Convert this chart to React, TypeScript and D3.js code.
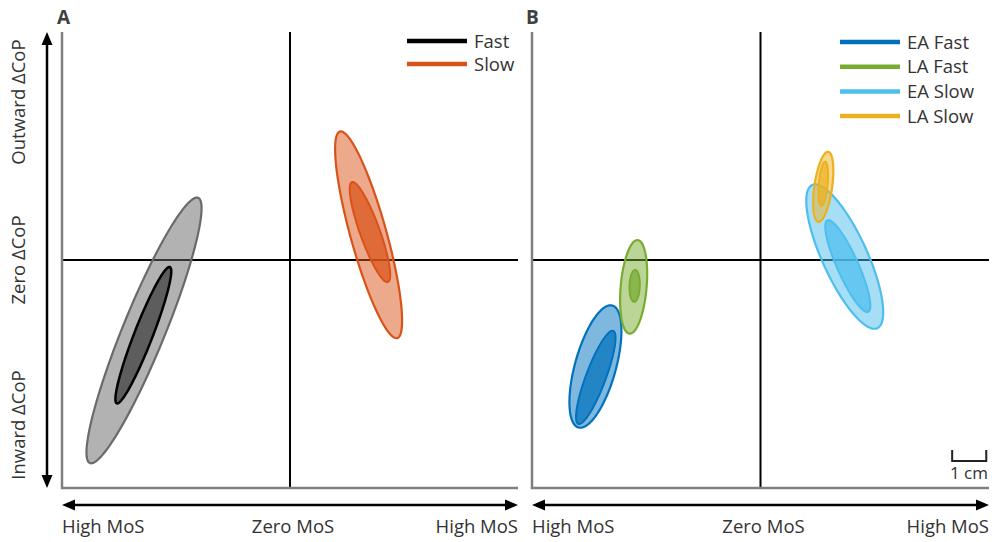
import React from "react";
import * as d3 from "d3";

// ---- data (cm) ----
const legendA = ["Fast", "Slow"];
const legendB = ["EA Fast", "LA Fast", "EA Slow", "LA Slow"];
const xTickLabels = ["High MoS", "Zero MoS", "High MoS"];
const yTickLabels = ["Outward ΔCoP", "Zero ΔCoP", "Inward ΔCoP"];

// ellipse: [cx, cy, semiMajor, semiMinor, angleDeg]
const ellipsesA = [
  { series: "Fast", level: "outer", p: [-4.29, -2.07, 4.21, 0.62, 67.8] },
  { series: "Fast", level: "inner", p: [-4.31, -2.21, 2.15, 0.27, 68.7] },
  { series: "Slow", level: "outer", p: [2.31, 0.74, 3.15, 0.53, 105.5] },
  { series: "Slow", level: "inner", p: [2.35, 0.82, 1.56, 0.29, 109.8] },
];
const ellipsesB = [
  { series: "EA Fast", level: "outer", p: [-4.84, -3.13, 1.86, 0.6, 74.5] },
  { series: "EA Fast", level: "inner", p: [-4.83, -3.45, 1.46, 0.29, 69.5] },
  { series: "LA Fast", level: "outer", p: [-3.72, -0.79, 1.38, 0.38, 85] },
  { series: "LA Fast", level: "inner", p: [-3.69, -0.76, 0.47, 0.15, 88] },
  { series: "EA Slow", level: "outer", p: [2.47, 0.1, 2.31, 0.66, 114.4] },
  { series: "EA Slow", level: "inner", p: [2.56, -0.18, 1.47, 0.31, 114] },
  { series: "LA Slow", level: "outer", p: [1.84, 2.15, 1.04, 0.26, 81.9] },
  { series: "LA Slow", level: "inner", p: [1.84, 2.24, 0.65, 0.13, 85] },
];
const domain = [-6.7, 6.7];
const scaleBarStart = 5.62;
const scaleBarLength = 1;
const scaleBarLabel = "1 cm";

// ---- styles ----
const colors: Record<string, string> = {
  Fast: "#000000",
  Slow: "#D95319",
  "EA Fast": "#0072BD",
  "LA Fast": "#77AC30",
  "EA Slow": "#4DBEEE",
  "LA Slow": "#EDB120",
};
const FONT = "'Open Sans', 'Noto Sans', sans-serif";
const TXT = "#333333";

function ellipsePath(p: number[], x: d3.ScaleLinear<number, number>, y: d3.ScaleLinear<number, number>) {
  const [cx, cy, a, b, deg] = p;
  const th = (deg * Math.PI) / 180;
  const pts: [number, number][] = d3.range(0, 120).map((i) => {
    const t = (i / 120) * 2 * Math.PI;
    const dx = a * Math.cos(th) * Math.cos(t) - b * Math.sin(th) * Math.sin(t);
    const dy = a * Math.sin(th) * Math.cos(t) + b * Math.cos(th) * Math.sin(t);
    return [x(cx + dx), y(cy + dy)];
  });
  return d3.line().curve(d3.curveLinearClosed)(pts) || "";
}

function ellStyle(series: string, level: string) {
  const c = colors[series];
  if (series === "Fast") {
    return level === "outer"
      ? { fill: "#666666", fillOpacity: 0.5, stroke: "#6a6a6a", strokeWidth: 2.2 }
      : { fill: "#000000", fillOpacity: 0.48, stroke: "#000000", strokeWidth: 2.5 };
  }
  return level === "outer"
    ? { fill: c, fillOpacity: 0.5, stroke: c, strokeWidth: 2.2 }
    : { fill: c, fillOpacity: 0.72, stroke: c, strokeWidth: 2 };
}

function HArrow({ x0, x1, y }: { x0: number; x1: number; y: number }) {
  const L = 13, W = 5.5;
  return (
    <g>
      <line x1={x0 + 4} x2={x1 - 4} y1={y} y2={y} stroke="#000" strokeWidth={2.5} />
      <path d={`M${x0},${y} L${x0 + L},${y - W} L${x0 + L},${y + W} Z`} fill="#000" />
      <path d={`M${x1},${y} L${x1 - L},${y - W} L${x1 - L},${y + W} Z`} fill="#000" />
    </g>
  );
}

function VArrow({ y0, y1, x }: { y0: number; y1: number; x: number }) {
  const L = 13, W = 5.5;
  return (
    <g>
      <line y1={y0 + 4} y2={y1 - 4} x1={x} x2={x} stroke="#000" strokeWidth={2.5} />
      <path d={`M${x},${y0} L${x - W},${y0 + L} L${x + W},${y0 + L} Z`} fill="#000" />
      <path d={`M${x},${y1} L${x - W},${y1 - L} L${x + W},${y1 - L} Z`} fill="#000" />
    </g>
  );
}

function Panel({
  x, y, ellipses, legend, legendX, legendY, legendStep, letter, letterX,
}: {
  x: d3.ScaleLinear<number, number>; y: d3.ScaleLinear<number, number>;
  ellipses: { series: string; level: string; p: number[] }[];
  legend: string[]; legendX: number; legendY: number; legendStep: number; letter: string; letterX: number;
}) {
  const [xl, xr] = x.range();
  const [yb, yt] = y.range();
  return (
    <g>
      <text x={letterX} y={24} fontFamily={FONT} fontWeight="bold" fontSize={19} fill="#404040">{letter}</text>
      {/* zero lines */}
      <line x1={x(0)} x2={x(0)} y1={yt} y2={yb} stroke="#000" strokeWidth={2} />
      <line x1={xl} x2={xr} y1={y(0)} y2={y(0)} stroke="#000" strokeWidth={2} />
      {/* ellipses */}
      {ellipses.map((e, i) => {
        const s = ellStyle(e.series, e.level);
        return <path key={i} d={ellipsePath(e.p, x, y)} fill={s.fill} fillOpacity={s.fillOpacity} stroke={s.stroke} strokeWidth={s.strokeWidth} />;
      })}
      {/* axes */}
      <path d={`M${xl},${yt} V${yb} H${xr}`} fill="none" stroke="#808080" strokeWidth={2.5} />
      <HArrow x0={xl} x1={xr} y={505} />
      <text x={xl} y={533} fontFamily={FONT} fontSize={18.5} fill={TXT} textAnchor="start">{xTickLabels[0]}</text>
      <text x={x(0) + 3} y={533} fontFamily={FONT} fontSize={18.5} fill={TXT} textAnchor="middle">{xTickLabels[1]}</text>
      <text x={xr} y={533} fontFamily={FONT} fontSize={18.5} fill={TXT} textAnchor="end">{xTickLabels[2]}</text>
      {/* legend */}
      {legend.map((name, i) => (
        <g key={name}>
          <line x1={legendX} x2={legendX + 60} y1={legendY + i * legendStep} y2={legendY + i * legendStep} stroke={colors[name]} strokeWidth={4.5} />
          <text x={legendX + 67} y={legendY + i * legendStep + 6.5} fontFamily={FONT} fontSize={18.5} fill={TXT}>{name}</text>
        </g>
      ))}
    </g>
  );
}

export default function App() {
  const xA = d3.scaleLinear().domain(domain).range([62, 518]);
  const xB = d3.scaleLinear().domain(domain).range([532, 989]);
  const y = d3.scaleLinear().domain(domain).range([488, 32]);
  const yLabelPos = [102, 260, 425];
  const sb0 = xB(scaleBarStart), sb1 = xB(scaleBarStart + scaleBarLength);
  return (
    <svg width={997} height={542} style={{ position: "absolute", left: 0, top: 0, background: "#fff" }}>
      <rect width={997} height={542} fill="#fff" />
      <VArrow x={47} y0={32} y1={488} />
      {yTickLabels.map((t, i) => (
        <text key={i} transform={`translate(25,${yLabelPos[i]}) rotate(-90)`} fontFamily={FONT} fontSize={18.5} fill={TXT} textAnchor="middle">{t}</text>
      ))}
      <Panel x={xA} y={y} ellipses={ellipsesA} legend={legendA} legendX={407} legendY={41} legendStep={23} letter="A" letterX={57} />
      <Panel x={xB} y={y} ellipses={ellipsesB} legend={legendB} legendX={840} legendY={42} legendStep={24.7} letter="B" letterX={526} />
      <path d={`M${sb0},450 V461 H${sb1} V450`} fill="none" stroke="#222" strokeWidth={2} />
      <text x={988} y={479} fontFamily={FONT} fontSize={17} fill={TXT} textAnchor="end">{scaleBarLabel}</text>
    </svg>
  );
}
